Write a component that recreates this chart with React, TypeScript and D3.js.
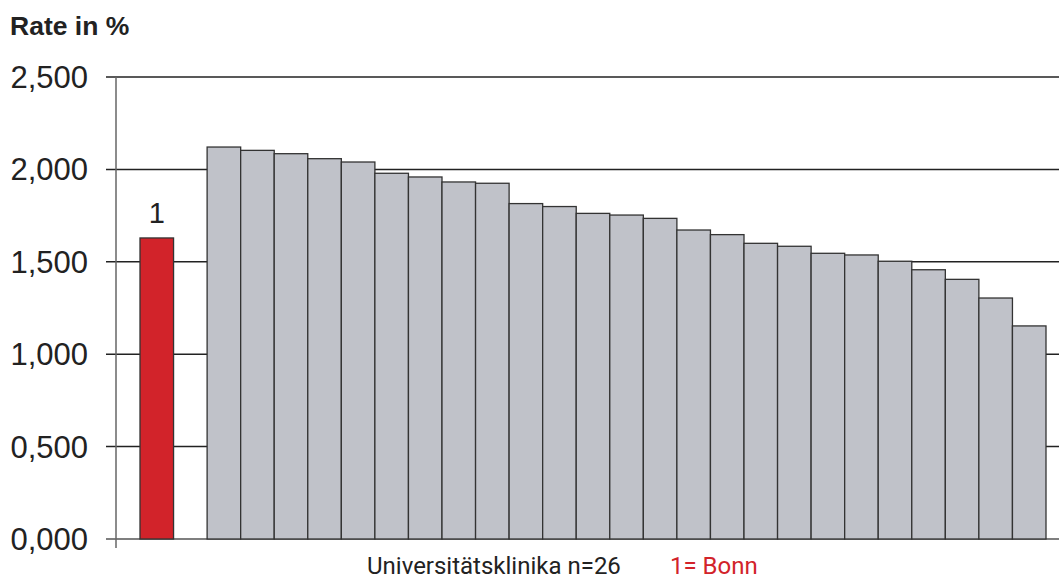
import React from "react";
import * as d3 from "d3";

const categories = ["Bonn", "", ...Array.from({ length: 25 }, (_, i) => `U${i + 2}`)];
const bonnValue = 1629;
const otherValues = [2121, 2103, 2085, 2058, 2040, 1979, 1959, 1932, 1925, 1815, 1799, 1762, 1753, 1735, 1672, 1647, 1600, 1584, 1546, 1537, 1503, 1457, 1405, 1304, 1153];
const yTicks = [0, 500, 1000, 1500, 2000, 2500];
const yTickLabels = ["0,000", "0,500", "1,000", "1,500", "2,000", "2,500"];

export default function App() {
  const W = 1059, H = 581;
  const x = d3.scaleBand<string>().domain(categories).range([140, 1046]).padding(0);
  const y = d3.scaleLinear().domain([0, 2500]).range([539, 77]);
  const bars = [
    { key: categories[0], v: bonnValue, red: true },
    ...otherValues.map((v, i) => ({ key: categories[i + 2], v, red: false })),
  ];
  const font = "'Liberation Sans', Arial, Helvetica, sans-serif";
  return (
    <svg width={W} height={H} style={{ position: "absolute", left: 0, top: 0 }}>
      <rect width={W} height={H} fill="#fff" />
      <text x={10} y={35} fontFamily={font} fontWeight="bold" fontSize={26.5} fill="#222">Rate in %</text>
      {yTicks.map((t, i) => (
        <g key={t}>
          <line x1={106} x2={W} y1={y(t)} y2={y(t)} stroke={t === 0 ? "#555" : "#222"} strokeWidth={1.5} />
          <text x={88} y={y(t) + 11} textAnchor="end" fontFamily={font} fontSize={31} fill="#222">{yTickLabels[i]}</text>
        </g>
      ))}
      <line x1={116} x2={116} y1={77} y2={548} stroke="#666" strokeWidth={1.5} />
      {bars.map((b) => (
        <rect key={b.key} x={x(b.key)!} y={y(b.v)} width={x.bandwidth()} height={y(0) - y(b.v)}
          fill={b.red ? "#d2232a" : "#c0c2c9"} stroke="#333" strokeWidth={1.3} />
      ))}
      <text x={x(categories[0])! + x.bandwidth() / 2} y={y(bonnValue) - 15} textAnchor="middle" fontFamily={font} fontSize={29} fill="#222">1</text>
      <text x={367} y={574} fontFamily="Roboto, sans-serif" fontSize={24} fill="#222">Universitätsklinika n=26</text>
      <text x={670} y={574} fontFamily="Roboto, sans-serif" fontSize={24} fill="#d2232a">1= Bonn</text>
    </svg>
  );
}
